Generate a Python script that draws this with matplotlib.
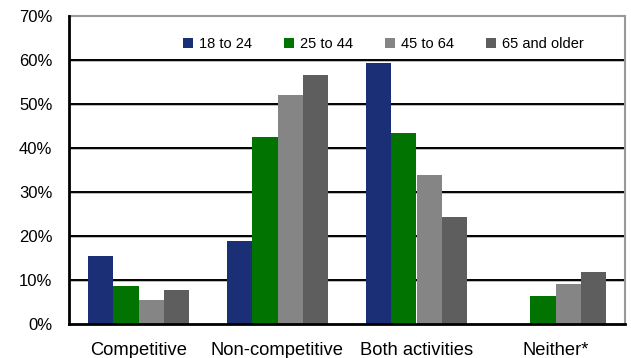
import matplotlib
matplotlib.use("Agg")
import matplotlib.pyplot as plt
import numpy as np

categories = ["Competitive", "Non-competitive", "Both activities", "Neither*"]
series_names = ["18 to 24", "25 to 44", "45 to 64", "65 and older"]
v_18_24 = [15.5, 18.9, 59.3, 0.0]
v_25_44 = [8.6, 42.6, 43.4, 6.4]
v_45_64 = [5.5, 52.0, 33.9, 9.1]
v_65_up = [7.7, 56.6, 24.3, 11.8]
yticks = [0, 10, 20, 30, 40, 50, 60, 70]
colors = ["#1B2F77", "#007300", "#858585", "#5E5E5E"]

plt.rcParams['font.family'] = ['Liberation Sans', 'DejaVu Sans']

fig = plt.figure(figsize=(6.31, 3.58), dpi=100)
ax = fig.add_axes([69/631, 1-324/358, (625-69)/631, (324-16)/358])

x = np.arange(len(categories))
w = 0.183
data = [v_18_24, v_25_44, v_45_64, v_65_up]
for i, (vals, c, n) in enumerate(zip(data, colors, series_names)):
    ax.bar(x + (i - 1.5) * w, vals, w, color=c, label=n, zorder=3)

ax.set_xlim(-0.5, 3.5)
ax.set_ylim(0, 70)
ax.set_yticks(yticks)
ax.set_yticklabels([f"{t}%" for t in yticks], fontsize=12)
for t in yticks[1:-1]:
    ax.axhline(t - 0.25, color="#b0b0b0", lw=1.2, zorder=1)
    ax.axhline(t, color="black", lw=1.4, zorder=2)
ax.set_xticks(x)
ax.set_xticklabels(categories, fontsize=13.2)
ax.tick_params(axis='x', length=0, pad=13)
ax.tick_params(axis='y', length=0, pad=12)
for s in ["top", "right"]:
    ax.spines[s].set_color("#999999")
    ax.spines[s].set_linewidth(1.5)
ax.spines["left"].set_linewidth(2)
ax.spines["bottom"].set_linewidth(2)
ax.spines["left"].set_zorder(4)
ax.spines["bottom"].set_zorder(4)

ax.legend(ncol=4, loc="upper center", bbox_to_anchor=(0.565, 0.975), frameon=False,
          fontsize=10.5, handlelength=0.7, handleheight=0.7, handletextpad=0.4,
          columnspacing=2.2)

fig.savefig("out.png", dpi=100)
